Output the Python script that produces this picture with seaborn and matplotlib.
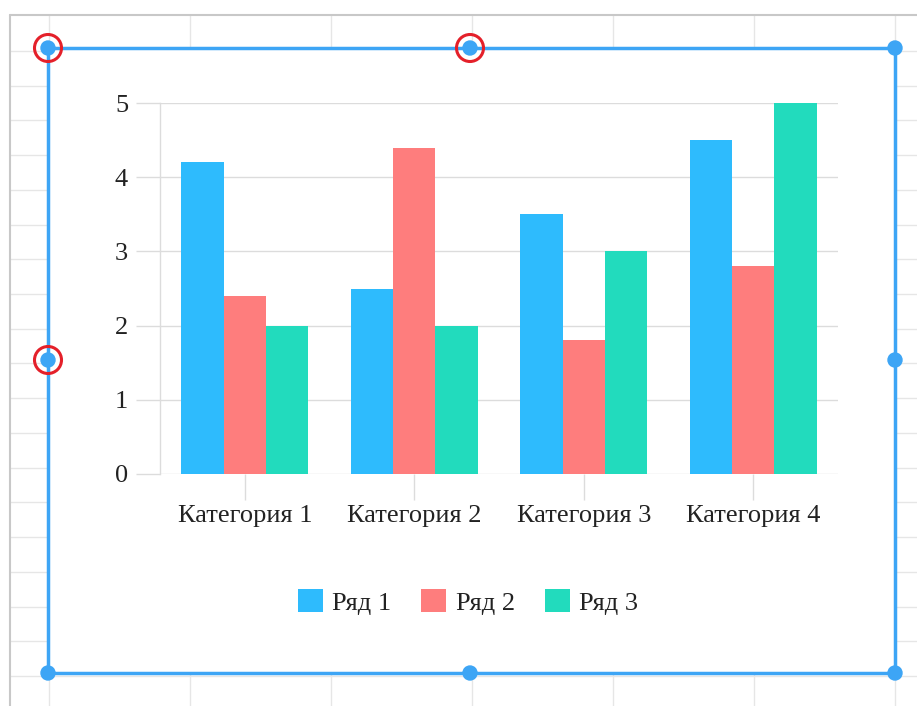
import matplotlib
matplotlib.use("Agg")
import matplotlib.pyplot as plt
import seaborn as sns
import pandas as pd
from matplotlib.patches import Rectangle, Circle

sns.set_theme(style="white")
plt.rcParams["font.family"] = ["Liberation Serif", "DejaVu Serif"]

# Chart data
categories = ["Категория 1", "Категория 2", "Категория 3", "Категория 4"]
series = ["Ряд 1", "Ряд 2", "Ряд 3"]
row1 = [4.2, 2.5, 3.5, 4.5]
row2 = [2.4, 4.4, 1.8, 2.8]
row3 = [2.0, 2.0, 3.0, 5.0]
colors = ["#2EBBFD", "#FE7D7D", "#22DBBD"]
y_ticks = [0, 1, 2, 3, 4, 5]

df = pd.DataFrame({
    "Category": categories * 3,
    "Series": [series[0]] * 4 + [series[1]] * 4 + [series[2]] * 4,
    "Value": row1 + row2 + row3,
})

W, H = 917, 706
fig = plt.figure(figsize=(W / 100, H / 100), dpi=100)

# Spreadsheet background with selection frame
bg = fig.add_axes([0, 0, 1, 1])
bg.set_xlim(0, W)
bg.set_ylim(H, 0)
bg.axis("off")
x = 49
while x < W:
    bg.plot([x, x], [15, H], color="#e6e6e6", lw=1, zorder=1)
    x += 141
y = 51
while y < H:
    bg.plot([10, W], [y, y], color="#e6e6e6", lw=1, zorder=1)
    y += 34.72
bg.plot([10, W], [15, 15], color="#c8c8c8", lw=1.5, zorder=2)
bg.plot([10, 10], [15, H], color="#c8c8c8", lw=1.5, zorder=2)

sel = "#3DA5F5"
bg.add_patch(Rectangle((48, 48), 847, 625, facecolor="white", edgecolor=sel, lw=2.5, zorder=3))
for hx, hy in [(48, 48), (470, 48), (895, 48), (48, 360), (895, 360), (48, 673), (470, 673), (895, 673)]:
    bg.add_patch(Circle((hx, hy), 7, color=sel, zorder=4))
for hx, hy in [(48, 48), (470, 48), (48, 360)]:
    bg.add_patch(Circle((hx, hy), 13.5, facecolor="none", edgecolor="#E4202A", lw=2.2, zorder=5))

# Chart
ax = fig.add_axes([160 / W, 1 - 474 / H, (838 - 160) / W, (474 - 103) / H])
ax.patch.set_alpha(0)
sns.barplot(data=df, x="Category", y="Value", hue="Series", palette=colors,
            width=0.75, gap=0, saturation=1, linewidth=0, ax=ax, zorder=3)

ax.set_xlim(-0.5, 3.5)
ax.set_ylim(0, 5)
ax.set_yticks(y_ticks)
ax.set_xlabel("")
ax.set_ylabel("")
ax.grid(axis="y", color="#dcdcdc", lw=1, zorder=0)
for s in ["top", "right", "bottom"]:
    ax.spines[s].set_visible(False)
ax.spines["left"].set_color("#dcdcdc")
ax.spines["left"].set_linewidth(1)
ax.tick_params(axis="y", length=17, width=1, color="#dcdcdc", pad=6, labelsize=19, labelcolor="#222222", left=True)
ax.tick_params(axis="x", length=19, width=1, color="#dcdcdc", pad=3, labelsize=19, labelcolor="#222222", bottom=True)

handles, labels = ax.get_legend_handles_labels()
ax.get_legend().remove()
fig.legend(handles, labels, loc="center", bbox_to_anchor=(468 / W, 1 - 602 / H), ncol=3,
           frameon=False, fontsize=19, handlelength=0.95, handleheight=0.95,
           handletextpad=0.35, columnspacing=1.15, labelcolor="#222222")

fig.savefig("out.png", dpi=100)
